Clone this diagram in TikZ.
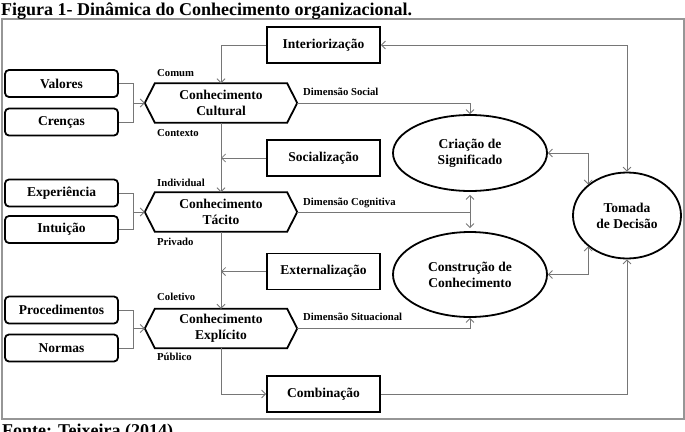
\documentclass[tikz,border=0pt]{standalone}
\usepackage{fontspec}
\setmainfont{Liberation Serif}
\usetikzlibrary{arrows.meta,calc,shapes.geometric}
\definecolor{linegray}{RGB}{118,118,118}
\definecolor{framegray}{RGB}{150,150,150}
\newcommand\hexdraw[1]{\draw[line width=1.8pt, line join=miter] (#1.west) -- ($(#1.north west)+(10,0)$) -- ($(#1.north east)+(-10,0)$) -- (#1.east) -- ($(#1.south east)+(-10,0)$) -- ($(#1.south west)+(10,0)$) -- cycle;}
\tikzset{
  conn/.style={draw=linegray, line width=0.8pt},
  >={Straight Barb[length=4pt,width=8pt]},
  boxfont/.style={font=\fontsize{13.5}{16.2}\selectfont\bfseries},
  lbox/.style={boxfont, draw, rounded corners=4pt, line width=1.8pt, minimum width=113, minimum height=27, inner sep=0},
  rbox/.style={boxfont, draw, line width=1.8pt, minimum width=113, minimum height=36, inner sep=0},
  hexnode/.style={boxfont, minimum width=152, minimum height=39, inner sep=0, align=center},
  ell/.style={boxfont, ellipse, draw, line width=1.8pt, inner sep=0, align=center},
  small/.style={font=\fontsize{10.7}{12}\selectfont\bfseries, inner sep=0, anchor=west},
  titlefont/.style={font=\fontsize{18}{20}\selectfont\bfseries, inner sep=0, anchor=base west}
}
\begin{document}
\begin{tikzpicture}[x=1pt,y=-1pt]
\useasboundingbox (0,0) rectangle (685,431);
\draw[draw=framegray, line width=1.2pt] (2,19) rectangle (684,419);
\node[titlefont] (title) at (1,15) {Figura 1- Dinâmica do Conhecimento organizacional.};
\node[titlefont] (src) at (2,436) {Fonte: Teixeira (2014)};

% left boxes
\node[lbox] (val) at (61.5,83.5) {Valores};
\node[lbox] (cre) at (61.5,122) {Crenças};
\node[lbox] (exp) at (61.5,193) {Experiência};
\node[lbox] (int) at (61.5,229.5) {Intuição};
\node[lbox] (pro) at (61.5,310) {Procedimentos};
\node[lbox] (nor) at (61.5,348) {Normas};

% hexagons
\node[hexnode] (cult) at (221,103) {Conhecimento\\Cultural};
\node[hexnode] (tac) at (221,212) {Conhecimento\\Tácito};
\node[hexnode] (expl) at (221,328.5) {Conhecimento\\Explícito};
\hexdraw{cult}
\hexdraw{tac}
\hexdraw{expl}

% right boxes
\node[rbox] (inter) at (323.5,45) {Interiorização};
\node[rbox] (soc) at (323.5,158) {Socialização};
\node[rbox] (ext) at (323.5,271.5) {Externalização};
\node[rbox] (comb) at (323.5,394) {Combinação};

% ellipses
\node[ell, minimum width=154, minimum height=76] (cria) at (470,153) {Criação de\\Significado};
\node[ell, minimum width=154, minimum height=85] (cons) at (470,274.5) {Construção de\\Conhecimento};
\node[ell, minimum width=108, minimum height=86] (tom) at (627,215.5) {Tomada\\de Decisão};

% labels
\node[small] (l1) at (157,73) {Comum};
\node[small] (l2) at (157,133) {Contexto};
\node[small] (l3) at (157,183) {Individual};
\node[small] (l4) at (157,242) {Privado};
\node[small] (l5) at (157,297) {Coletivo};
\node[small] (l6) at (157,357) {Público};
\node[small] (d1) at (303,92) {Dimensão Social};
\node[small] (d2) at (303,203) {Dimensão Cognitiva};
\node[small] (d3) at (303,317) {Dimensão Situacional};

% left connectors
\draw[conn] (val.east) -- ++(14,0) coordinate (j1) -- (j1 |- cre.east) -- (cre.east);
\draw[conn,->] (j1 |- cult.west) -- (cult.west);
\draw[conn] (exp.east) -- ++(14,0) coordinate (j2) -- (j2 |- int.east) -- (int.east);
\draw[conn,->] (j2 |- tac.west) -- (tac.west);
\draw[conn] (pro.east) -- ++(14,0) coordinate (j3) -- (j3 |- nor.east) -- (nor.east);
\draw[conn,->] (j3 |- expl.west) -- (expl.west);

% vertical chain
\draw[conn,->] (inter.west) -| (cult.north);
\draw[conn,->] (cult.south) -- (tac.north);
\draw[conn,->] (tac.south) -- (expl.north);
\draw[conn,->] (expl.south) |- (comb.west);
\draw[conn,->] (soc.west) -- (soc.west -| cult.south);
\draw[conn,->] (ext.west) -- (ext.west -| tac.south);

% dimensions
\draw[conn,->] (cult.east) -| (cria.north);
\draw[conn] (tac.east) -- (tac.east -| cria.south) coordinate (cog);
\draw[conn,->,shorten >=3pt] (cog) -- (cria.south);
\draw[conn,->,shorten >=3pt] (cog) -- (cons.north);
\draw[conn,->] (expl.east) -| (cons.south);

% to decision
\draw[conn,<->] (cria.east) -| (tom.north west);
\draw[conn,<->] (cons.east) -| (tom.south west);
\draw[conn,<->] (tom.north) |- (inter.east);
\draw[conn,->] (comb.east) -| (tom.south);
\end{tikzpicture}
\end{document}
